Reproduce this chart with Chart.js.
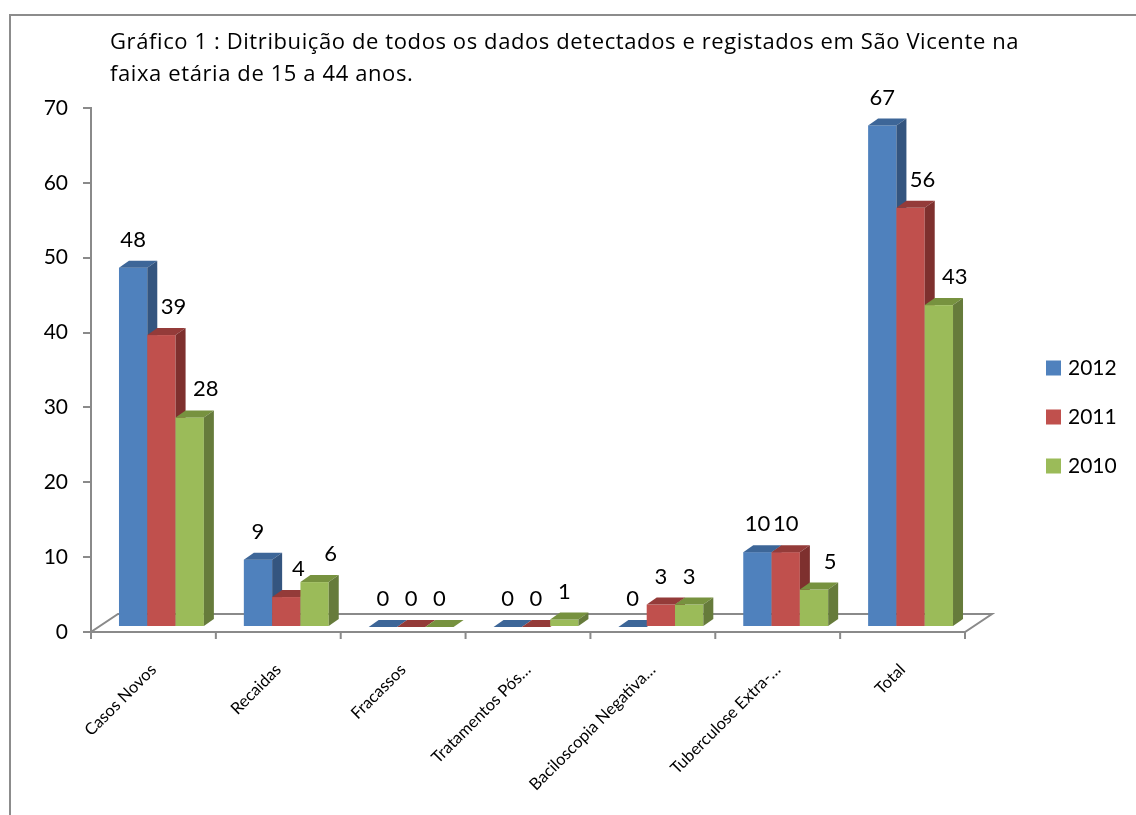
<!DOCTYPE html>
<html lang="pt">
<head>
<meta charset="UTF-8">
<title>Gráfico 1</title>
<script src="https://cdn.jsdelivr.net/npm/chart.js@4.4.0/dist/chart.umd.min.js"></script>
<style>
  html, body { margin: 0; padding: 0; background: #fff; overflow: hidden; }
  body { width: 1136px; height: 815px; position: relative; font-family: Lato, "Noto Sans", sans-serif; }
  .moldura { position: absolute; left: 9px; top: 14px; width: 1200px; height: 900px; border: 2px solid #8c8c8c; }
  .titulo { position: absolute; left: 110px; top: 24px; font-family: "Open Sans", sans-serif; font-size: 22px; letter-spacing: 0.6px; line-height: 32px; color: #000; white-space: nowrap; }
  #grafico { position: absolute; left: 0; top: 0; }
</style>
</head>
<body>
  <div class="moldura"></div>
  <canvas id="grafico" width="1136" height="815"></canvas>
  <div class="titulo">Gráfico 1 : Ditribuição de todos os dados detectados e registados em São Vicente na<br>faixa etária de 15 a 44 anos.</div>

<script>
  // dados
  const categorias = ['Casos Novos', 'Recaidas', 'Fracassos', 'Tratamentos Pós…', 'Baciloscopia Negativa…', 'Tuberculose Extra-…', 'Total'];
  const anos = ['2012', '2011', '2010'];
  const valores2012 = [48, 9, 0, 0, 0, 10, 67];
  const valores2011 = [39, 4, 0, 0, 3, 10, 56];
  const valores2010 = [28, 6, 0, 1, 3, 5, 43];
  const ticksY = [0, 10, 20, 30, 40, 50, 60, 70];

  const coresFrente = ['#4f81bd', '#c0504d', '#9bbb59'];
  const coresTopo = ['#3d6698', '#943b39', '#77923f'];
  const coresLado = ['#34557f', '#7e302e', '#667b3b'];

  const cinza = '#8a8a8a';
  const fonte = 'Lato, "Noto Sans", sans-serif';
  const prof = { dx: 10, dy: -7 };      // profundidade das barras
  const chao = { dx: 27, dy: -18 };     // profundidade do chão
  const desloc = { x: 8, y: -5 };       // barras no meio do chão

  // desenha o chão, as barras 3D, os valores e a legenda
  const barras3d = {
    id: 'barras3d',
    beforeDatasetDraw() { return false; },
    beforeDatasetsDraw(chart) {
      const { ctx, chartArea: ca, scales } = chart;
      const y0 = scales.y.getPixelForValue(0);
      ctx.save();
      ctx.strokeStyle = cinza;
      ctx.lineWidth = 2;
      ctx.beginPath();
      ctx.moveTo(ca.left, y0);
      ctx.lineTo(ca.right, y0);
      ctx.lineTo(ca.right + chao.dx, y0 + chao.dy);
      ctx.lineTo(ca.left + chao.dx, y0 + chao.dy);
      ctx.closePath();
      ctx.stroke();
      const n = categorias.length;
      ctx.beginPath();
      for (let k = 0; k <= n; k++) {
        const xk = ca.left + k * (ca.right - ca.left) / n;
        ctx.moveTo(xk, y0);
        ctx.lineTo(xk, y0 + 7);
      }
      ctx.stroke();
      ctx.restore();
    },
    afterDatasetsDraw(chart) {
      const { ctx } = chart;
      const ds = chart.data.datasets;
      ctx.save();
      for (let i = 0; i < categorias.length; i++) {
        for (let d = 0; d < ds.length; d++) {
          const el = chart.getDatasetMeta(d).data[i];
          const cx = el.x + desloc.x;
          const w = el.width;
          const l = cx - w / 2, r = cx + w / 2;
          const t = el.y + desloc.y, b = el.base + desloc.y;
          // frente
          ctx.fillStyle = coresFrente[d];
          ctx.fillRect(l, t, w, b - t);
          // topo
          ctx.fillStyle = coresTopo[d];
          ctx.beginPath();
          ctx.moveTo(l, t);
          ctx.lineTo(l + prof.dx, t + prof.dy);
          ctx.lineTo(r + prof.dx, t + prof.dy);
          ctx.lineTo(r, t);
          ctx.closePath();
          ctx.fill();
          // lado
          ctx.fillStyle = coresLado[d];
          ctx.beginPath();
          ctx.moveTo(r, t);
          ctx.lineTo(r + prof.dx, t + prof.dy);
          ctx.lineTo(r + prof.dx, b + prof.dy);
          ctx.lineTo(r, b);
          ctx.closePath();
          ctx.fill();
        }
      }
      // rótulos dos valores
      ctx.fillStyle = '#000';
      ctx.font = '22px ' + fonte;
      ctx.textAlign = 'center';
      ctx.textBaseline = 'middle';
      for (let i = 0; i < categorias.length; i++) {
        let maior = -1;
        for (let d = 0; d < ds.length; d++) {
          const v = ds[d].data[i];
          const el = chart.getDatasetMeta(d).data[i];
          const afasta = maior > v ? (d === 1 ? 12 : 16) : 0;
          ctx.fillText(String(v), el.x + desloc.x + afasta, el.y + desloc.y - 28);
          maior = Math.max(maior, v);
        }
      }
      ctx.restore();
    },
    afterDraw(chart) {
      const { ctx, chartArea: ca } = chart;
      ctx.save();
      ctx.font = '21px ' + fonte;
      ctx.textAlign = 'left';
      ctx.textBaseline = 'middle';
      chart.data.datasets.forEach((d, k) => {
        const lx = ca.right + 81;
        const ly = ca.top + 260 + k * 49;
        ctx.fillStyle = coresFrente[k];
        ctx.fillRect(lx, ly - 7.5, 15, 15);
        ctx.fillStyle = '#000';
        ctx.fillText(d.label, lx + 22, ly);
      });
      ctx.restore();
    }
  };

  new Chart(document.getElementById('grafico'), {
    type: 'bar',
    data: {
      labels: categorias,
      datasets: [
        { label: anos[0], data: valores2012, backgroundColor: coresFrente[0] },
        { label: anos[1], data: valores2011, backgroundColor: coresFrente[1] },
        { label: anos[2], data: valores2010, backgroundColor: coresFrente[2] }
      ]
    },
    options: {
      responsive: false,
      animation: false,
      devicePixelRatio: 1,
      categoryPercentage: 0.68,
      barPercentage: 1,
      layout: { padding: { top: 108, right: 171, left: 0, bottom: 0 } },
      plugins: {
        legend: { display: false },
        title: { display: false },
        tooltip: { enabled: false }
      },
      scales: {
        x: {
          grid: { display: false },
          border: { display: false },
          ticks: {
            color: '#000',
            font: { family: fonte, size: 16.5 },
            minRotation: 45,
            maxRotation: 45,
            autoSkip: false,
            padding: 20
          },
          afterFit(s) { s.height = 183; }
        },
        y: {
          min: 0,
          max: 70,
          afterBuildTicks(s) { s.ticks = ticksY.map(v => ({ value: v })); },
          grid: { drawOnChartArea: false, drawTicks: true, tickLength: 8, color: cinza, lineWidth: 2 },
          border: { display: true, color: cinza, width: 2 },
          ticks: { color: '#000', font: { family: fonte, size: 21 }, padding: 15 },
          afterFit(s) { s.width = 91; }
        }
      }
    },
    plugins: [barras3d]
  });
</script>
</body>
</html>
